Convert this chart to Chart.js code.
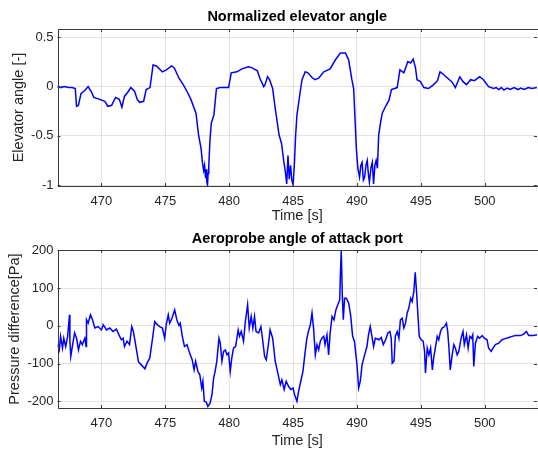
<!DOCTYPE html>
<html>
<head>
<meta charset="utf-8">
<script src="https://cdn.jsdelivr.net/npm/chart.js@4.4.0/dist/chart.umd.min.js"></script>
<style>
  html, body { margin: 0; padding: 0; background: #fff; }
  .box { position: absolute; left: 0; width: 538px; height: 225px; }
</style>
</head>
<body>
<div class="box" style="top:0"><canvas id="elevChart"></canvas></div>
<div class="box" style="top:225px"><canvas id="probeChart"></canvas></div>
<script>
// x axis (time, s)
const timeTicks = [470, 475, 480, 485, 490, 495, 500];
const timeMin = 466.56;
const timeMax = 504.09;

// normalized elevator angle
const elevTime = [
  466.56, 466.8, 467.1, 467.4, 467.7, 467.95, 468.05, 468.2,
  468.4, 468.7, 468.96, 469.2, 469.4, 469.87, 470.26, 470.5,
  470.8, 471.1, 471.4, 471.6, 471.8, 472.1, 472.3, 472.6,
  472.8, 473.0, 473.3, 473.5, 473.8, 474.04, 474.3, 474.77,
  475.08, 475.5, 475.7, 476.07, 476.4, 476.7, 477.0, 477.4,
  477.6, 477.8, 477.9, 478.0, 478.07, 478.15, 478.2, 478.25,
  478.3, 478.35, 478.4, 478.5, 478.6, 478.8, 479.0, 479.3,
  479.95, 480.16, 480.6, 481.0, 481.5, 481.8, 482.2, 482.4,
  482.7, 482.8, 483.0, 483.16, 483.4, 483.6, 483.9, 484.1,
  484.26, 484.4, 484.5, 484.6, 484.7, 484.8, 484.9, 485.0,
  485.1, 485.2, 485.3, 485.56, 485.7, 485.95, 486.16, 486.5,
  486.7, 487.0, 487.4, 487.9, 488.3, 488.7, 489.1, 489.35,
  489.6, 489.74, 489.87, 489.95, 490.07, 490.2, 490.3, 490.4,
  490.5, 490.6, 490.7, 490.8, 490.9, 490.97, 491.1, 491.2,
  491.3, 491.4, 491.5, 491.6, 491.7, 491.85, 491.98, 492.24,
  492.5, 492.7, 493.15, 493.36, 493.67, 493.98, 494.2, 494.4,
  494.58, 494.7, 494.97, 495.23, 495.6, 496.0, 496.3, 496.5,
  496.8, 497.1, 497.45, 497.7, 498.05, 498.3, 498.57, 498.9,
  499.2, 499.6, 499.9, 500.3, 500.7, 500.9, 501.1, 501.3,
  501.5, 501.75, 502.0, 502.3, 502.6, 502.8, 503.1, 503.4,
  503.7, 504.09
];
const elevValue = [
  0.01, -0.01, 0.0, -0.01, -0.01, -0.02, -0.20, -0.19,
  -0.07, -0.04, 0.0, -0.05, -0.11, -0.13, -0.15, -0.20,
  -0.19, -0.11, -0.13, -0.21, -0.10, -0.05, -0.01, -0.05,
  -0.13, -0.16, -0.15, -0.03, -0.01, 0.22, 0.21, 0.15,
  0.17, 0.21, 0.19, 0.085, 0.02, -0.05, -0.13, -0.27,
  -0.49, -0.63, -0.77, -0.85, -0.80, -0.93, -0.84, -0.97,
  -1.0, -0.88, -0.80, -0.53, -0.37, -0.29, -0.02, -0.01,
  -0.01, 0.14, 0.15, 0.18, 0.20, 0.19, 0.16, 0.085,
  0.0, 0.02, 0.10, 0.07, -0.02, -0.22, -0.49, -0.58,
  -0.75, -0.87, -0.99, -0.70, -0.94, -0.80, -0.95, -1.0,
  -0.79, -0.49, -0.29, -0.05, 0.07, 0.15, 0.14, 0.09,
  0.07, 0.085, 0.15, 0.18, 0.27, 0.34, 0.34, 0.27,
  0.07, -0.02, -0.39, -0.63, -0.83, -0.92, -0.80, -0.77,
  -0.95, -0.92, -0.80, -0.75, -0.90, -0.97, -0.82, -0.77,
  -0.99, -0.80, -0.75, -0.83, -0.49, -0.36, -0.27, -0.20,
  -0.14, -0.03, -0.01, 0.17, 0.14, 0.255, 0.24, 0.28,
  0.19, 0.07, 0.05, -0.01, -0.02, 0.02, 0.06, 0.15,
  0.12, 0.085, 0.045, -0.01, 0.10, 0.05, 0.02, 0.07,
  0.06, 0.10, 0.07, 0.0, -0.02, -0.01, -0.03, -0.01,
  -0.035, -0.015, -0.03, -0.01, -0.03, -0.015, -0.03, -0.01,
  -0.02, -0.01
];
const elevTicks = [-1, -0.5, 0, 0.5];

// aeroprobe pressure difference (Pa)
const probeTime = [
  466.56, 466.7, 466.8, 466.95, 467.05, 467.2, 467.35, 467.5,
  467.53, 467.6, 467.7, 467.9, 468.05, 468.2, 468.36, 468.5,
  468.7, 468.8, 468.83, 468.96, 469.14, 469.3, 469.48, 469.74,
  470.0, 470.13, 470.4, 470.65, 470.9, 471.17, 471.4, 471.56,
  471.7, 471.8, 472.0, 472.2, 472.37, 472.5, 472.7, 472.9,
  473.1, 473.4, 473.57, 473.78, 474.0, 474.17, 474.37, 474.56,
  474.77, 474.95, 475.07, 475.23, 475.34, 475.52, 475.73, 475.9,
  476.07, 476.17, 476.33, 476.5, 476.7, 476.9, 477.1, 477.25,
  477.37, 477.55, 477.7, 477.85, 477.94, 478.05, 478.2, 478.33,
  478.5, 478.65, 478.78, 478.9, 479.03, 479.1, 479.2, 479.3,
  479.43, 479.56, 479.7, 479.82, 479.95, 480.08, 480.2, 480.34,
  480.5, 480.7, 480.8, 480.94, 481.12, 481.25, 481.44, 481.57,
  481.72, 481.85, 481.98, 482.1, 482.3, 482.48, 482.6, 482.77,
  482.9, 483.08, 483.2, 483.4, 483.6, 483.8, 484.0, 484.12,
  484.3, 484.46, 484.65, 484.83, 485.0, 485.12, 485.3, 485.43,
  485.6, 485.77, 485.95, 486.08, 486.2, 486.35, 486.48, 486.6,
  486.74, 486.87, 487.0, 487.13, 487.26, 487.4, 487.5, 487.65,
  487.78, 487.9, 488.05, 488.2, 488.35, 488.5, 488.65, 488.7,
  488.77, 488.85, 488.93, 489.03, 489.17, 489.35, 489.5, 489.66,
  489.8, 490.0, 490.13, 490.26, 490.4, 490.6, 490.78, 490.9,
  491.04, 491.17, 491.3, 491.44, 491.6, 491.72, 491.9, 492.06,
  492.24, 492.42, 492.58, 492.68, 492.76, 492.9, 493.0, 493.15,
  493.28, 493.4, 493.54, 493.67, 493.8, 493.93, 494.06, 494.2,
  494.32, 494.45, 494.56, 494.66, 494.77, 494.87, 495.03, 495.18,
  495.29, 495.36, 495.5, 495.63, 495.76, 495.9, 496.0, 496.15,
  496.28, 496.4, 496.54, 496.67, 496.85, 497.0, 497.1, 497.2,
  497.3, 497.45, 497.58, 497.7, 497.84, 497.97, 498.15, 498.3,
  498.4, 498.57, 498.7, 498.83, 498.96, 499.06, 499.14, 499.27,
  499.45, 499.6, 499.8, 499.97, 500.18, 500.3, 500.5, 500.65,
  500.83, 501.1, 501.35, 501.6, 501.88, 502.14, 502.4, 502.8,
  503.05, 503.26, 503.44, 503.83, 504.09
];
const probeValue = [
  -50, -64, -28, -59, -33, -55, -28, 29,
  -41, -81, -59, -19, -33, -64, -41, -50,
  -33, -55, 16, 7, 29, 16, -6, -2,
  -11, 3, -11, -6, -15, -9, -26, -37,
  -33, -55, -41, -50, -2, -15, -55, -96,
  -103, -114, -99, -86, -33, 11, 3, -2,
  -6, -33, 3, 29, 7, 20, 42, 16,
  1, 7, -28, -55, -50, -72, -90, -117,
  -94, -121, -130, -165, -147, -200, -202, -214,
  -205, -183, -139, -120, -94, -68, -33, -46,
  -94, -68, -64, -77, -72, -121, -86, -59,
  -55, -11, -28, -15, -41, 7, 56, -6,
  25, -6, 25, -15, -19, -2, -33, -81,
  -90, -46, -11, -33, -94, -125, -156, -143,
  -169, -147, -161, -169, -165, -183, -200, -174,
  -147, -121, -68, -33, -15, 3, 34, -6,
  -77, -50, -64, -41, -33, -28, -50, -24,
  -77, -19, 25, 16, 42, 56, 69, 135,
  200, 82, 16, 73, 73, 60, 29, -28,
  -41, -103, -165, -147, -103, -77, -55, -24,
  -2, -28, -55, -33, -35, -37, -31, -50,
  -37, -19, -15, -33, -99, -94, -28, -15,
  -33, 16, 20, -6, 7, 34, 47, 73,
  64, 91, 142, 91, 29, -28, -37, -41,
  -68, -125, -59, -77, -59, -117, -86, -55,
  -28, -37, -15, -6, -2, 7, -15, -59,
  -117, -77, -50, -59, -77, -68, -33, -15,
  -50, -24, -59, -28, -33, -24, -108, -46,
  -28, -33, -26, -33, -37, -59, -68, -59,
  -50, -46, -37, -34, -31, -28, -26, -26,
  -22, -15, -26, -26, -24
];
const probeTicks = [-200, -100, 0, 100, 200];

const FONT = '"Liberation Sans", Arial, Helvetica, sans-serif';
const TEXT = '#262626';
const GRID = '#e4e4e4';
const FRAME = '#3a3a3a';

Chart.defaults.font.family = FONT;
Chart.defaults.color = TEXT;

// MATLAB style box with inward ticks
const boxPlugin = {
  id: 'box',
  afterDatasetsDraw(chart) {
    const { ctx, chartArea: a, scales } = chart;
    ctx.save();
    ctx.strokeStyle = FRAME;
    ctx.lineWidth = 1;
    ctx.beginPath();
    scales.x.ticks.forEach((t) => {
      const px = Math.round(scales.x.getPixelForValue(t.value)) + 0.5;
      ctx.moveTo(px, a.top); ctx.lineTo(px, a.top + 3);
      ctx.moveTo(px, a.bottom); ctx.lineTo(px, a.bottom - 3);
    });
    scales.y.ticks.forEach((t) => {
      const py = Math.round(scales.y.getPixelForValue(t.value)) + 0.5;
      ctx.moveTo(a.left, py); ctx.lineTo(a.left + 3, py);
      ctx.moveTo(a.right, py); ctx.lineTo(a.right - 3, py);
    });
    ctx.stroke();
    ctx.strokeRect(Math.round(a.left) + 0.5, Math.round(a.top) + 0.5,
      Math.round(a.right - a.left), Math.round(a.bottom - a.top));
    ctx.restore();
  },
};

function makeChart(id, times, values, cfg) {
  const ctx = document.getElementById(id).getContext('2d');
  return new Chart(ctx, {
    type: 'line',
    data: {
      datasets: [{
        data: times.map((t, i) => ({ x: t, y: values[i] })),
        borderColor: '#0000ff',
        borderWidth: 1.5,
        pointRadius: 0,
        tension: 0,
        fill: false,
      }],
    },
    options: {
      responsive: true,
      maintainAspectRatio: false,
      animation: false,
      devicePixelRatio: 1,
      layout: { padding: { left: 0, right: 1, top: 0, bottom: 0 } },
      plugins: {
        legend: { display: false },
        tooltip: { enabled: false },
        title: {
          display: true,
          text: cfg.title,
          fullSize: false,
          color: '#000',
          font: { size: 14.5, weight: 'bold' },
          padding: cfg.titlePad,
        },
      },
      scales: {
        x: {
          type: 'linear',
          min: timeMin,
          max: timeMax,
          afterBuildTicks: (s) => { s.ticks = timeTicks.map((v) => ({ value: v })); },
          afterFit: (s) => { s.height = cfg.xHeight; },
          border: { display: false },
          grid: { color: GRID, drawTicks: false },
          ticks: { padding: 8, font: { size: 13 }, callback: (v) => String(v) },
          title: { display: true, text: 'Time [s]', font: { size: 14.5 }, padding: { top: 0, bottom: 0 } },
        },
        y: {
          type: 'linear',
          min: cfg.yMin,
          max: cfg.yMax,
          afterBuildTicks: (s) => { s.ticks = cfg.yTicks.map((v) => ({ value: v })); },
          afterFit: (s) => { s.width = 57.5; },
          border: { display: false },
          grid: { color: GRID, drawTicks: false },
          ticks: { padding: 4, font: { size: 13 }, callback: (v) => String(v) },
          title: { display: true, text: cfg.yLabel, font: { size: 14.5 }, padding: { top: cfg.yTitleTop, bottom: 0 } },
        },
      },
    },
    plugins: [boxPlugin],
  });
}

makeChart('elevChart', elevTime, elevValue, {
  title: 'Normalized elevator angle',
  titlePad: { top: 8.7, bottom: 2.9 },
  xHeight: 39,
  yMin: -1.01, yMax: 0.585,
  yTicks: elevTicks,
  yLabel: 'Elevator angle [-]',
  yTitleTop: 10,
});

makeChart('probeChart', probeTime, probeValue, {
  title: 'Aeroprobe angle of attack port',
  titlePad: { top: 5.3, bottom: 2.3 },
  xHeight: 42,
  yMin: -218, yMax: 201,
  yTicks: probeTicks,
  yLabel: 'Pressure difference[Pa]',
  yTitleTop: 6.5,
});
</script>
</body>
</html>
